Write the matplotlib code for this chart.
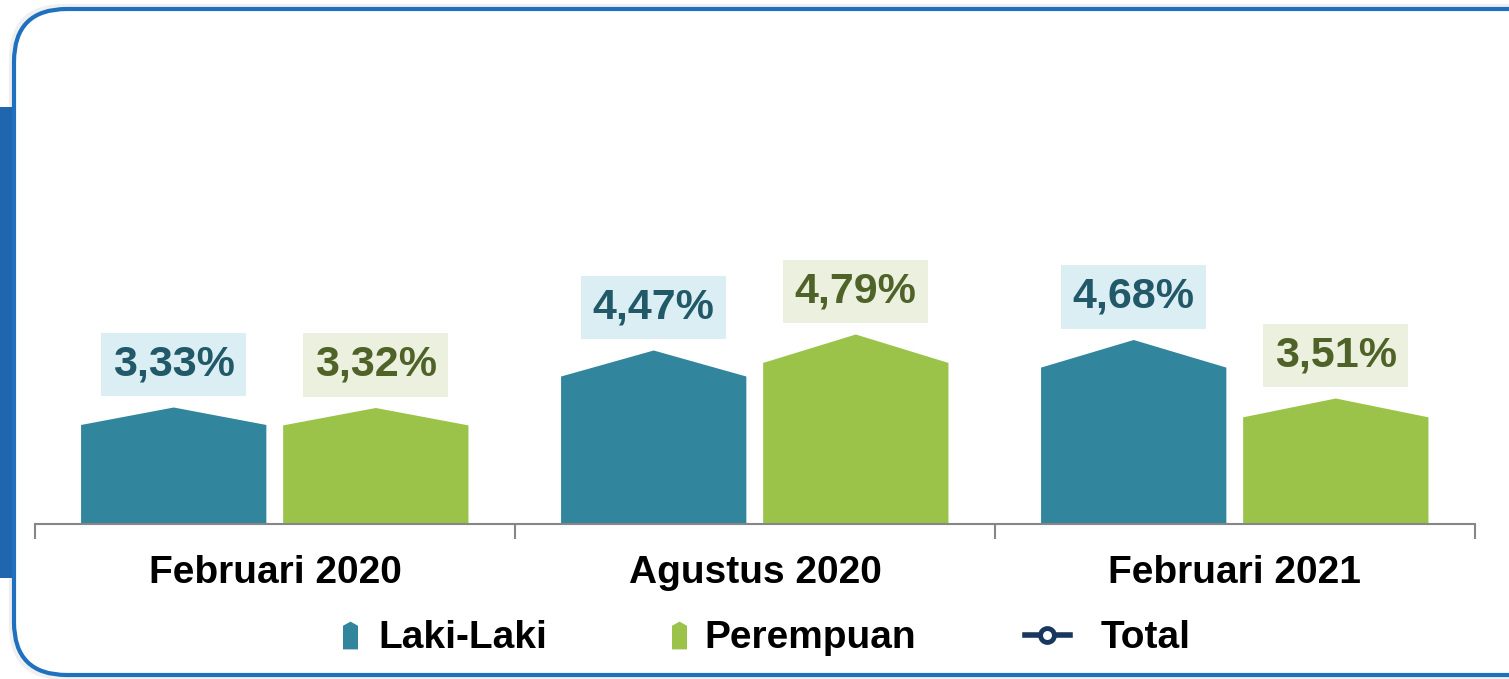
import matplotlib
matplotlib.use("Agg")
import matplotlib.pyplot as plt
from matplotlib.patches import Polygon, FancyBboxPatch, Rectangle
from matplotlib.lines import Line2D
from matplotlib.path import Path

# data
periods = ['Februari 2020', 'Agustus 2020', 'Februari 2021']
laki = [3.33, 4.47, 4.68]
perempuan = [3.32, 4.79, 3.51]
series_names = ['Laki-Laki', 'Perempuan', 'Total']

plt.rcParams['font.family'] = ['Liberation Sans', 'DejaVu Sans']

C_LAKI = '#31859c'
C_PER = '#9bc34a'
T_LAKI = '#215968'
T_PER = '#4f6228'
B_LAKI = '#dbeef4'
B_PER = '#ebf1de'
C_TOT = '#17375e'

W, H = 1509, 679
fig = plt.figure(figsize=(W / 100, H / 100), dpi=100)

# frame
fig.add_artist(FancyBboxPatch((11 / W, 1 - 678 / H), 1.2, (678 - 6) / H,
                              boxstyle='round,pad=0,rounding_size=0.035',
                              transform=fig.transFigure, mutation_aspect=W / H,
                              facecolor='none', edgecolor='#f0f0f0', lw=3, zorder=-3))
fig.add_artist(Rectangle((0, 1 - 578 / H), 14 / W, (578 - 107) / H,
                         transform=fig.transFigure, color='#1f66ae', lw=0, zorder=-2))
fig.add_artist(FancyBboxPatch((14 / W, 1 - 675 / H), 1.2, (675 - 9) / H,
                              boxstyle='round,pad=0,rounding_size=0.035',
                              transform=fig.transFigure, mutation_aspect=W / H,
                              facecolor='white', edgecolor='#1f70be', lw=3, zorder=-1))

ymin, ppu = 1.0, 50.0
base_px, top_px = 524, 80
ax = fig.add_axes([35 / W, 1 - base_px / H, 1440 / W, (base_px - top_px) / H])
ax.set_xlim(0, 3)
ax.set_ylim(ymin, ymin + (base_px - top_px) / ppu)
ax.patch.set_alpha(0)

bw = 0.386
offs = [0.289, 0.71]


def house(ax, xc, v, color):
    sh = ymin + 0.85 * (v - ymin)
    pts = [(xc - bw / 2, ymin), (xc - bw / 2, sh), (xc, v),
           (xc + bw / 2, sh), (xc + bw / 2, ymin)]
    ax.add_patch(Polygon(pts, closed=True, facecolor=color, edgecolor='none'))


for i in range(len(periods)):
    for vals, off, c, tc, bc in [(laki, offs[0], C_LAKI, T_LAKI, B_LAKI),
                                 (perempuan, offs[1], C_PER, T_PER, B_PER)]:
        v = vals[i]
        house(ax, i + off, v, c)
        ax.annotate(f'{v:.2f}%'.replace('.', ','), xy=(i + off, v),
                    xytext=(0, 31), textcoords='offset points',
                    ha='center', va='center', fontsize=31, fontweight='bold',
                    color=tc,
                    bbox=dict(boxstyle='square,pad=0.27', fc=bc, ec='none'))

for s in ['top', 'right', 'left']:
    ax.spines[s].set_visible(False)
ax.spines['bottom'].set_color('#868686')
ax.spines['bottom'].set_linewidth(1.5)
ax.set_yticks([])
ax.set_xticks([0.5, 1.5, 2.5])
ax.set_xticklabels(periods, fontsize=28, fontweight='bold')
ax.tick_params(axis='x', which='major', length=0, pad=22)
ax.set_xticks([0, 1, 2, 3], minor=True)
ax.tick_params(axis='x', which='minor', length=11, width=1.5, color='#868686')

# legend, placed by hand
house_marker = Path([(-0.27, -0.5), (0.27, -0.5), (0.27, 0.35), (0, 0.5),
                     (-0.27, 0.35), (-0.27, -0.5)])
ly = 1 - 635 / H
fig.add_artist(Line2D([350 / W], [ly], ls='none', marker=house_marker, ms=20,
                      color=C_LAKI, mec='none', transform=fig.transFigure))
fig.add_artist(Line2D([679 / W], [ly], ls='none', marker=house_marker, ms=20,
                      color=C_PER, mec='none', transform=fig.transFigure))
fig.add_artist(Line2D([1025 / W, 1070 / W], [ly, ly], color=C_TOT, lw=4,
                      transform=fig.transFigure))
fig.add_artist(Line2D([1047 / W], [ly], ls='none', marker='o', ms=10, mfc='white',
                      mec=C_TOT, mew=3.5, transform=fig.transFigure))
for x0, name in zip([378, 704, 1101], series_names):
    fig.text(x0 / W, ly - 3 / H, name, ha='left', va='center', fontsize=28,
             fontweight='bold', color='black')

fig.savefig('out.png', dpi=100)
